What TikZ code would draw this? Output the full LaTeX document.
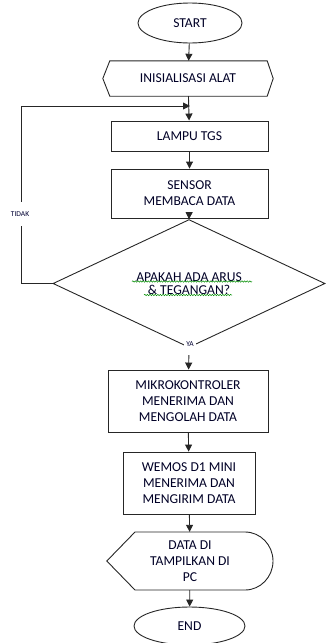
\documentclass[tikz,border=0pt]{standalone}
\usepackage{fontspec}
\setmainfont{Carlito}
\usetikzlibrary{shapes.geometric,arrows.meta,decorations.pathmorphing}
\begin{document}
\begin{tikzpicture}[x=1pt,y=1pt,
  line/.style={draw=black!85,line width=0.9pt},
  arr/.style={line,-{Triangle[length=7pt,width=7pt]}},
  txt/.style={font=\fontsize{13.6}{15.8}\selectfont,text=black!85!blue,align=center,inner sep=0pt},
  procbox/.style={rectangle,line,txt},
  small/.style={font=\fontsize{7.5}{8}\selectfont,text=black!80!blue,fill=white,inner sep=0pt},
  squig/.style={draw=green!55!black,line width=0.5pt,decorate,decoration={snake,amplitude=0.7pt,segment length=2.6pt}}
]
\useasboundingbox (0,0) rectangle (325,-643);
% start
\node[ellipse,line,txt,minimum width=104pt,minimum height=40pt] (start) at (190,-23) {START};
% init hexagon
\node[txt,minimum width=170pt,minimum height=35pt] (init) at (188,-78.5) {INISIALISASI ALAT};
\draw[line] ([xshift=7pt]init.north west) -- ([xshift=-6pt]init.north east) -- (init.east)
  -- ([xshift=-6pt]init.south east) -- ([xshift=7pt]init.south west) -- (init.west) -- cycle;
% boxes
\node[procbox,minimum width=157pt,minimum height=30pt] (lampu) at (189.5,-136) {LAMPU TGS};
\node[procbox,minimum width=157pt,minimum height=49pt] (sensor) at (189.5,-193.5) {SENSOR\\MEMBACA DATA};
\node[diamond,line,txt,minimum width=272pt,minimum height=87pt,inner sep=0pt,font=\fontsize{13.6}{13.5}\selectfont] (dec) at (189,-283.5) {APAKAH ADA ARUS\\\& TEGANGAN?};
\draw[squig] (132,-281.5) -- (252,-281.5);
\draw[squig] (144,-295) -- (232,-295);
\node[procbox,minimum width=160pt,minimum height=62pt] (mikro) at (188,-401) {MIKROKONTROLER\\MENERIMA DAN\\MENGOLAH DATA};
\node[procbox,minimum width=132pt,minimum height=62pt] (wemos) at (189,-483) {WEMOS D1 MINI\\MENERIMA DAN\\MENGIRIM DATA};
% display
\node[txt,minimum width=166pt,minimum height=58pt] (disp) at (190,-561) {DATA DI\\TAMPILKAN DI\\PC};
\draw[line] (disp.west) -- (135,-532) -- (245,-532) arc[start angle=90,end angle=-90,x radius=28pt,y radius=29pt] -- (135,-590) -- cycle;
% end
\node[ellipse,line,txt,minimum width=111pt,minimum height=38pt] (end) at (189.5,-626) {END};
% connectors
\coordinate (j) at (190,-106);
\coordinate (lc) at (21,-283.5);
\draw[arr] (start) -- (init);
\draw[arr] (init) -- (lampu);
\draw[arr] (dec.west) -- (lc) |- (j);
\node[small,minimum height=24pt] (tidak) at (20,-214) {TIDAK};
\draw[arr] (lampu) -- (sensor);
\draw[arr] (sensor) -- (dec.north);
\draw[arr] (dec.south) -- (mikro);
\node[small,minimum height=22pt,minimum width=12pt] (ya) at (190,-344) {YA};
\draw[arr] (mikro) -- (wemos);
\draw[arr] (wemos) -- (disp);
\draw[arr] (disp) -- (end);
\end{tikzpicture}
\end{document}
